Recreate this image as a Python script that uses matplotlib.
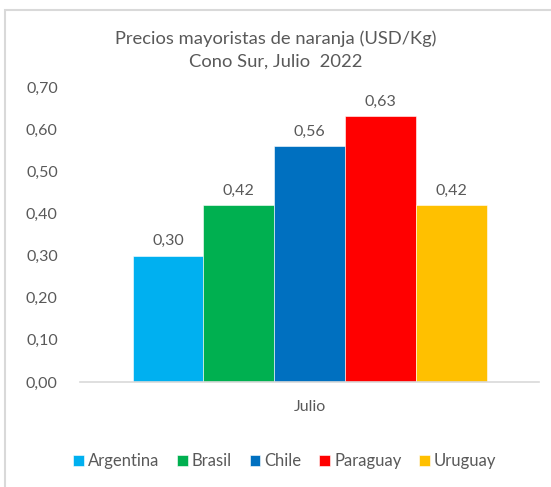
import matplotlib.pyplot as plt
from matplotlib.patches import Rectangle
import numpy as np

plt.rcParams['font.family'] = ['Lato', 'DejaVu Sans']

COUNTRIES = ['Argentina', 'Brasil', 'Chile', 'Paraguay', 'Uruguay']
PRICES = [0.30, 0.42, 0.56, 0.63, 0.42]
COLORS = ['#00B0F0', '#00B050', '#0070C0', '#FF0000', '#FFC000']
MONTH = 'Julio'
Y_TICKS = [0.0, 0.1, 0.2, 0.3, 0.4, 0.5, 0.6, 0.7]

TEXT_GRAY = '#595959'
W, H = 551, 487


def fmt(v):
    '''Spanish style decimal comma'''
    return f'{v:.2f}'.replace('.', ',')


fig = plt.figure(figsize=(W / 100, H / 100), dpi=100)

# light outer border like the Excel chart area (right/bottom edges fall outside)
fig.patches.append(Rectangle((5 / W, -0.05), 1.1, 1.05 - 10 / H, transform=fig.transFigure,
                             fill=False, edgecolor='#D9D9D9', linewidth=1.5))

ax = fig.add_axes([80 / W, (H - 382) / H, 459 / W, 295 / H])

bar_w = 70.8 / 459
offsets = (np.arange(len(COUNTRIES)) - (len(COUNTRIES) - 1) / 2) * bar_w
for off, country, price, color in zip(offsets, COUNTRIES, PRICES, COLORS):
    ax.bar(off, price, width=bar_w, color=color, label=country,
           edgecolor='white', linewidth=0.4)
    ax.text(off, price + 0.018, fmt(price), ha='center', va='bottom',
            fontsize=11.5, color=TEXT_GRAY)

ax.set_xlim(-0.5, 0.5)
ax.set_ylim(0, 0.70)
ax.set_yticks(Y_TICKS)
ax.set_yticklabels([fmt(t) for t in Y_TICKS])
ax.set_xticks([0])
ax.set_xticklabels([MONTH])
ax.tick_params(axis='y', length=0, pad=16, labelsize=11.5, labelcolor=TEXT_GRAY)
ax.tick_params(axis='x', length=0, pad=13, labelsize=11.5, labelcolor=TEXT_GRAY)

for side in ['top', 'right', 'left']:
    ax.spines[side].set_visible(False)
ax.spines['bottom'].set_color('#D9D9D9')
ax.spines['bottom'].set_linewidth(1.2)

fig.text(0.5, 1 - 50 / H, 'Precios mayoristas de naranja (USD/Kg)\nCono Sur, Julio  2022',
         ha='center', va='center', fontsize=13.2, color=TEXT_GRAY, linespacing=1.5)

fig.legend(loc='center', bbox_to_anchor=(0.517, 1 - 461 / H), ncol=5, frameon=False,
           fontsize=12, labelcolor=TEXT_GRAY, handlelength=0.65, handleheight=0.65,
           handletextpad=0.25, columnspacing=1.05)

fig.savefig('out.png', dpi=100)
